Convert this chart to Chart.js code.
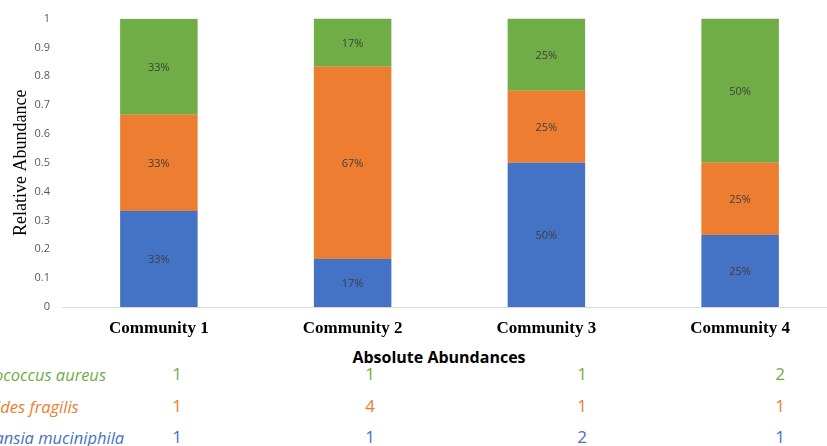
<!DOCTYPE html>
<html>
<head>
<meta charset="utf-8">
<script src="https://cdn.jsdelivr.net/npm/chart.js@4"></script>
<style>
    html, body { margin: 0; padding: 0; background: #fff; }
    body { width: 827px; height: 446px; overflow: hidden; position: relative; }
    #chart-box { position: absolute; left: 0; top: 0; width: 837px; height: 345px; }
    .tbl-title { position: absolute; left: 339px; width: 200px; top: 346px; text-align: center;
        font: bold 16px "Open Sans", sans-serif; color: #000; }
    .row-name { position: absolute; left: -60px; white-space: nowrap; font: italic 16.5px "Open Sans", sans-serif; }
    .cell { position: absolute; width: 40px; margin-left: -20px; text-align: center; font: 17px "Open Sans", sans-serif; }
</style>
</head>
<body>
<div id="chart-box"><canvas id="abundance-chart"></canvas></div>
<div id="table-box"></div>
<script>
const communities = ['Community 1', 'Community 2', 'Community 3', 'Community 4'];
const yTicks = [0, 0.1, 0.2, 0.3, 0.4, 0.5, 0.6, 0.7, 0.8, 0.9, 1];

// relative abundance per community (bottom to top)
const akkermansiaRel = [0.3333, 0.1667, 0.5, 0.25];
const bacteroidesRel = [0.3333, 0.6667, 0.25, 0.25];
const staphRel = [0.3333, 0.1667, 0.25, 0.5];

// absolute counts shown in the table under the chart
const speciesNames = ['Staphylococcus aureus', 'Bacteroides fragilis', 'Akkermansia muciniphila'];
const staphAbs = [1, 1, 1, 2];
const bacteroidesAbs = [1, 4, 1, 1];
const akkermansiaAbs = [1, 1, 2, 1];

const BLUE = '#4472C4', ORANGE = '#ED7D31', GREEN = '#70AD47';

// percent labels in the middle of each segment
const segmentLabels = {
    id: 'segmentLabels',
    afterDatasetsDraw(chart) {
        const ctx = chart.ctx;
        ctx.save();
        ctx.font = '11px "Open Sans", sans-serif';
        ctx.fillStyle = '#404040';
        ctx.textAlign = 'center';
        ctx.textBaseline = 'middle';
        chart.data.datasets.forEach((ds, i) => {
            chart.getDatasetMeta(i).data.forEach((bar, j) => {
                const p = bar.getProps(['x', 'y', 'base'], true);
                ctx.fillText(Math.round(ds.data[j] * 100) + '%', p.x, (p.y + p.base) / 2 + 1);
            });
        });
        ctx.restore();
    }
};

const ctx = document.getElementById('abundance-chart').getContext('2d');
new Chart(ctx, {
    type: 'bar',
    data: {
        labels: communities,
        datasets: [
            { label: speciesNames[2], data: akkermansiaRel, backgroundColor: BLUE },
            { label: speciesNames[1], data: bacteroidesRel, backgroundColor: ORANGE },
            { label: speciesNames[0], data: staphRel, backgroundColor: GREEN },
        ],
    },
    options: {
        responsive: true,
        maintainAspectRatio: false,
        animation: false,
        layout: { padding: { top: 18, right: 0, bottom: 0, left: 0 } },
        plugins: { legend: { display: false }, tooltip: { enabled: false } },
        datasets: { bar: { barPercentage: 0.4, categoryPercentage: 1, borderWidth: 0 } },
        scales: {
            x: {
                stacked: true,
                grid: { display: false, drawTicks: false },
                border: { display: true, color: '#d9d9d9', width: 1 },
                ticks: { color: '#000', padding: 11, font: { family: '"Liberation Serif", serif', size: 17, weight: 'bold' } },
                afterFit: (axis) => { axis.height = 38; },
            },
            y: {
                stacked: true,
                min: 0,
                max: 1,
                afterBuildTicks: (axis) => { axis.ticks = yTicks.map(v => ({ value: v })); },
                grid: { display: false, drawTicks: false },
                border: { display: false },
                ticks: { color: '#595959', padding: 12, font: { family: '"Open Sans", sans-serif', size: 11 },
                    callback: (v) => String(v) },
                title: { display: true, text: 'Relative Abundance', color: '#000', padding: { top: 10, bottom: 0 },
                    font: { family: '"Liberation Serif", serif', size: 18 } },
                afterFit: (axis) => { axis.width = 62; },
            },
        },
    },
    plugins: [segmentLabels],
});

// table of absolute abundances
const tableBox = document.getElementById('table-box');
const colX = [177, 370, 582, 780];
const rows = [
    { name: speciesNames[0], values: staphAbs, color: GREEN, y: 375 },
    { name: speciesNames[1], values: bacteroidesAbs, color: ORANGE, y: 407 },
    { name: speciesNames[2], values: akkermansiaAbs, color: BLUE, y: 438 },
];
let html = '<div class="tbl-title">Absolute Abundances</div>';
rows.forEach(r => {
    html += `<div class="row-name" style="top:${r.y - 12}px;color:${r.color}">${r.name}</div>`;
    r.values.forEach((v, i) => {
        html += `<div class="cell" style="left:${colX[i]}px;top:${r.y - 13}px;color:${r.color}">${v}</div>`;
    });
});
tableBox.innerHTML = html;
</script>
</body>
</html>
